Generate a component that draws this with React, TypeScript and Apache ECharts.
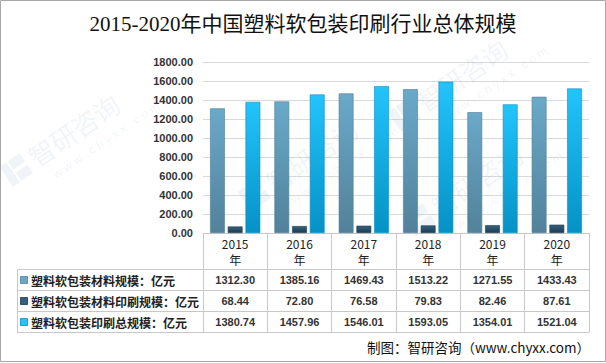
import React, { useEffect, useRef } from 'react';
import * as echarts from 'echarts';

const titleText = '2015-2020年中国塑料软包装印刷行业总体规模';
const years = ['2015', '2016', '2017', '2018', '2019', '2020'];
const yearSuffix = '年';
const seriesNames = ['塑料软包装材料规模：亿元', '塑料软包装材料印刷规模：亿元', '塑料软包装印刷总规模：亿元'];
const materialScale = [1312.3, 1385.16, 1469.43, 1513.22, 1271.55, 1433.43];
const printingScale = [68.44, 72.8, 76.58, 79.83, 82.46, 87.61];
const totalScale = [1380.74, 1457.96, 1546.01, 1593.05, 1354.01, 1521.04];
const yMin = 0;
const yMax = 1800;
const yInterval = 200;
const sourceText = '制图：智研咨询（www.chyxx.com）';
const watermarkName = '智研咨询';
const watermarkUrl = 'w w w . c h y x x . c o m';

const seriesData = [materialScale, printingScale, totalScale];
const seriesTop = ['#6aa9c9', '#33627f', '#22c4fc'];
const seriesBottom = ['#52829a', '#1d3c52', '#0592c6'];
const seriesBorder = ['#4d7d96', '#1b384c', '#0a8cc0'];

const SANS = '"Liberation Sans", Arial, sans-serif';
const CJK = '"Noto Sans CJK SC", "Liberation Sans", sans-serif';

function watermark(x: number, y: number) {
  const c = 'rgba(140,160,195,0.13)';
  return {
    type: 'group',
    x,
    y,
    rotation: 0.6,
    silent: true,
    z: 100,
    children: [
      { type: 'rect', shape: { x: 0, y: -22, width: 8, height: 24 }, style: { fill: c } },
      { type: 'rect', shape: { x: 10, y: -22, width: 14, height: 10 }, style: { fill: c } },
      { type: 'rect', shape: { x: 10, y: -8, width: 14, height: 10 }, style: { fill: c } },
      { type: 'text', x: 30, y: -24, style: { text: watermarkName, fill: c, font: `26px ${CJK}` } },
      { type: 'text', x: 40, y: 10, style: { text: watermarkUrl, fill: c, font: `12px ${SANS}` } },
    ],
  };
}

export default function App() {
  const ref = useRef<HTMLDivElement>(null);
  useEffect(() => {
    document.body.style.margin = '0';
    const chart = echarts.init(ref.current!, null, { renderer: 'svg' });
    const gridLeft = 203;
    const gridRight = 589;
    const gridTop = 62;
    const axisY = 233;
    const rowLines = [269, 290, 311, 332];
    const tableLeft = 17;

    chart.setOption({
      animation: false,
      backgroundColor: '#ffffff',
      grid: { left: gridLeft, right: 606 - gridRight, top: gridTop, bottom: 363 - axisY, containLabel: false },
      xAxis: {
        type: 'category',
        data: years,
        axisLine: { show: true, lineStyle: { color: '#c8c8c8', width: 1 } },
        axisTick: { show: true, length: rowLines[3] - axisY, lineStyle: { color: '#c8c8c8' } },
        axisLabel: {
          formatter: (v: string) => `${v}\n${yearSuffix}`,
          fontSize: 12,
          lineHeight: 16,
          margin: 2,
          color: '#222',
          fontFamily: CJK,
        },
      },
      yAxis: {
        type: 'value',
        min: yMin,
        max: yMax,
        interval: yInterval,
        axisLine: { show: false },
        axisTick: { show: false },
        axisLabel: {
          formatter: (v: number) => v.toFixed(2),
          fontSize: 11,
          fontWeight: 'bold',
          fontFamily: SANS,
          color: '#333',
          margin: 10,
        },
        splitLine: { lineStyle: { color: '#d9d9d9', width: 1 } },
      },
      series: seriesData.map((d, i) => ({
        type: 'bar',
        name: seriesNames[i],
        data: d,
        barGap: '20%',
        barCategoryGap: '22%',
        itemStyle: {
          color: new echarts.graphic.LinearGradient(0, 0, 0, 1, [
            { offset: 0, color: seriesTop[i] },
            { offset: 1, color: seriesBottom[i] },
          ]),
          borderColor: seriesBorder[i],
          borderWidth: 0.6,
        },
      })),
    });

    const centers = years.map((y) => chart.convertToPixel({ xAxisIndex: 0 }, y) as number);
    const graphics: any[] = [];
    graphics.push(watermark(12, 185), watermark(250, 210), watermark(415, 235), watermark(400, 130));
    graphics.push({
      type: 'text',
      x: 303,
      y: 24,
      style: {
        text: titleText,
        font: `21px "Liberation Serif", "Noto Sans CJK SC", serif`,
        fill: '#111',
        textAlign: 'center',
        textVerticalAlign: 'middle',
      },
    });
    rowLines.forEach((ly) => {
      graphics.push({
        type: 'line',
        shape: { x1: tableLeft, y1: ly + 0.5, x2: gridRight, y2: ly + 0.5 },
        style: { stroke: '#c8c8c8', lineWidth: 1 },
      });
    });
    graphics.push({
      type: 'line',
      shape: { x1: tableLeft + 0.5, y1: rowLines[0], x2: tableLeft + 0.5, y2: rowLines[3] },
      style: { stroke: '#c8c8c8', lineWidth: 1 },
    });
    seriesData.forEach((d, r) => {
      const cy = (rowLines[r] + rowLines[r + 1]) / 2 + 0.5;
      graphics.push({
        type: 'rect',
        shape: { x: 20.5, y: cy - 3.5, width: 7, height: 7 },
        style: { fill: seriesTop[r], stroke: seriesBorder[r], lineWidth: 0.8 },
      });
      graphics.push({
        type: 'text',
        x: 31,
        y: cy,
        style: {
          text: seriesNames[r],
          font: `bold 12px ${CJK}`,
          fill: '#222',
          textAlign: 'left',
          textVerticalAlign: 'middle',
        },
      });
      d.forEach((v, c) => {
        graphics.push({
          type: 'text',
          x: centers[c],
          y: cy,
          style: {
            text: v.toFixed(2),
            font: `bold 11px ${SANS}`,
            fill: '#333',
            textAlign: 'center',
            textVerticalAlign: 'middle',
          },
        });
      });
    });
    graphics.push({
      type: 'text',
      x: 590,
      y: 347,
      style: {
        text: sourceText,
        font: `13.5px ${CJK}`,
        fill: '#111',
        textAlign: 'right',
        textVerticalAlign: 'middle',
      },
    });
    graphics.push({
      type: 'rect',
      shape: { x: 0.5, y: 0.5, width: 605, height: 361 },
      style: { fill: 'none', stroke: '#a8a8a8', lineWidth: 1 },
      silent: true,
    });
    chart.setOption({ graphic: graphics });
    return () => chart.dispose();
  }, []);
  return <div ref={ref} style={{ width: 606, height: 363 }} />;
}
